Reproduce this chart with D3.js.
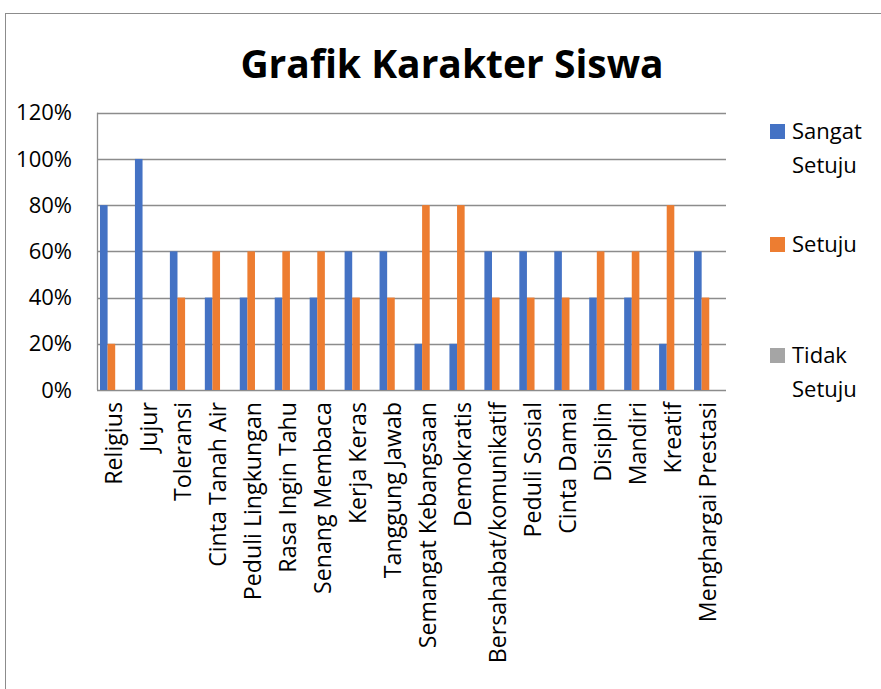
<!DOCTYPE html>
<html>
<head>
<meta charset="utf-8">
<script src="https://cdn.jsdelivr.net/npm/d3@7"></script>
<style>
  body { margin: 0; background: #fff; }
  text { font-family: "Open Sans", "Noto Sans", sans-serif; fill: #000; }
</style>
</head>
<body>
<div id="main"></div>
<script>
let categories = ["Religius", "Jujur", "Toleransi", "Cinta Tanah Air", "Peduli Lingkungan",
    "Rasa Ingin Tahu", "Senang Membaca", "Kerja Keras", "Tanggung Jawab", "Semangat Kebangsaan",
    "Demokratis", "Bersahabat/komunikatif", "Peduli Sosial", "Cinta Damai", "Disiplin",
    "Mandiri", "Kreatif", "Menghargai Prestasi"]
let seriesNames = ["Sangat Setuju", "Setuju", "Tidak Setuju"]
let sangatSetuju = [0.8, 1.0, 0.6, 0.4, 0.4, 0.4, 0.4, 0.6, 0.6, 0.2, 0.2, 0.6, 0.6, 0.6, 0.4, 0.4, 0.2, 0.6]
let setuju       = [0.2, 0, 0.4, 0.6, 0.6, 0.6, 0.6, 0.4, 0.4, 0.8, 0.8, 0.4, 0.4, 0.4, 0.6, 0.6, 0.8, 0.4]
let tidakSetuju  = [0, 0, 0, 0, 0, 0, 0, 0, 0, 0, 0, 0, 0, 0, 0, 0, 0, 0]
let yTicks = [0, 0.2, 0.4, 0.6, 0.8, 1.0, 1.2]
let colors = ["#4472C4", "#ED7D31", "#A5A5A5"]

let W = 881, H = 689
let plot = {left: 97, right: 726, top: 112.7, bottom: 390}

let svg = d3.select("#main").append("svg")
    .attr("width", W)
    .attr("height", H)

// chart border (runs off the page on the right and bottom)
svg.append("rect")
    .attr("x", 5.5).attr("y", 13.5)
    .attr("width", W + 20).attr("height", H + 20)
    .attr("fill", "none")
    .attr("stroke", "#8c8c8c")
    .attr("stroke-width", 1)

svg.append("text")
    .attr("x", 452).attr("y", 78)
    .attr("text-anchor", "middle")
    .attr("font-weight", "bold")
    .attr("font-size", "39px")
    .text("Grafik Karakter Siswa")

let y = d3.scaleLinear()
    .domain([0, 1.2])
    .range([plot.bottom, plot.top])

let x0 = d3.scaleBand()
    .domain(categories)
    .range([plot.left, plot.right])

let x1 = d3.scaleBand()
    .domain(seriesNames)
    .range([3, 3 + 3 * 7.6])

// gridlines
svg.append("g")
    .selectAll("line")
    .data(yTicks)
    .enter()
    .append("line")
    .attr("x1", plot.left).attr("x2", plot.right)
    .attr("y1", d => Math.round(y(d)) + 0.5)
    .attr("y2", d => Math.round(y(d)) + 0.5)
    .attr("stroke", "#8c8c8c")
    .attr("stroke-width", 1.3)

// left axis line
svg.append("line")
    .attr("x1", plot.left + 0.5).attr("x2", plot.left + 0.5)
    .attr("y1", y(1.2)).attr("y2", y(0))
    .attr("stroke", "#8c8c8c")
    .attr("stroke-width", 1.3)

// y labels
svg.append("g")
    .selectAll("text")
    .data(yTicks)
    .enter()
    .append("text")
    .attr("x", 72)
    .attr("y", d => y(d))
    .attr("dy", "0.35em")
    .attr("text-anchor", "end")
    .attr("font-size", "22px")
    .text(d3.format(".0%"))

// bars
let seriesData = [sangatSetuju, setuju, tidakSetuju]
seriesData.forEach((vals, s) => {
    svg.append("g")
        .selectAll("rect")
        .data(vals)
        .enter()
        .append("rect")
        .attr("x", (d, i) => x0(categories[i]) + x1(seriesNames[s]))
        .attr("y", d => y(d))
        .attr("width", x1.bandwidth())
        .attr("height", d => y(0) - y(d))
        .attr("fill", colors[s])
})

// x labels, rotated
svg.append("g")
    .selectAll("text")
    .data(categories)
    .enter()
    .append("text")
    .attr("transform", d => "translate(" + (x0(d) + x0.bandwidth() / 2 - 1) + "," + (plot.bottom + 12) + ") rotate(-90)")
    .attr("dy", "0.35em")
    .attr("text-anchor", "end")
    .attr("font-size", "23.2px")
    .text(d => d)

// legend
let legendItems = [
    {lines: ["Sangat", "Setuju"], top: 124},
    {lines: ["Setuju"], top: 237},
    {lines: ["Tidak", "Setuju"], top: 348}
]
let legend = svg.append("g")
legendItems.forEach((item, i) => {
    legend.append("rect")
        .attr("x", 770).attr("y", item.top)
        .attr("width", 15).attr("height", 15)
        .attr("fill", colors[i])
    item.lines.forEach((ln, j) => {
        legend.append("text")
            .attr("x", 792)
            .attr("y", item.top + 15 + j * 34)
            .attr("font-size", "22px")
            .text(ln)
    })
})
</script>
</body>
</html>
